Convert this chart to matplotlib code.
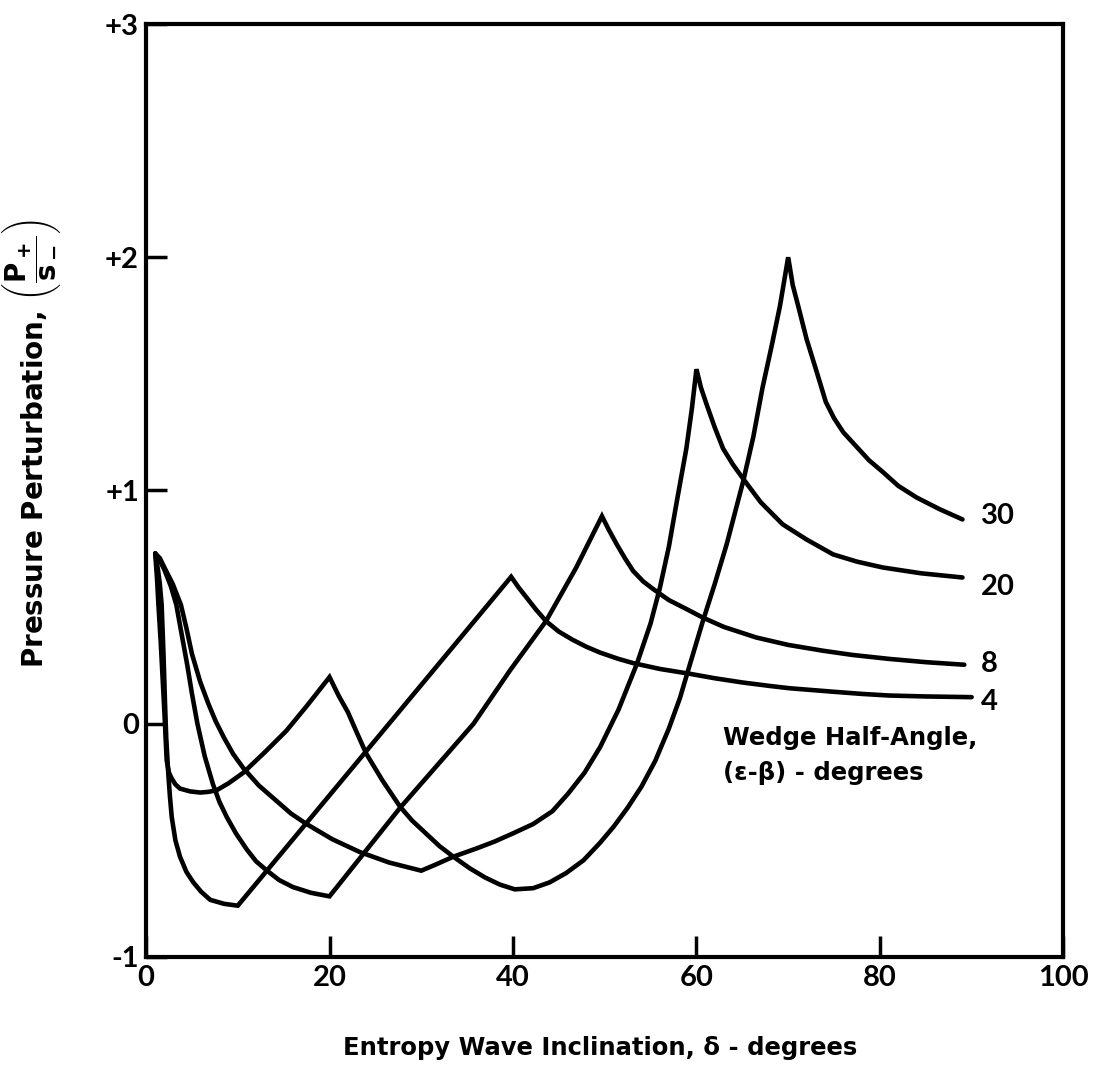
import matplotlib
matplotlib.use("Agg")
import matplotlib.pyplot as plt
from matplotlib.ticker import FixedLocator, FixedFormatter

plt.rcParams['font.family'] = ['DejaVu Sans']
plt.rcParams['font.weight'] = 'bold'
plt.rcParams['mathtext.fontset'] = 'custom'
plt.rcParams['mathtext.rm'] = 'DejaVu Sans:bold'
plt.rcParams['mathtext.it'] = 'DejaVu Sans:bold'
plt.rcParams['mathtext.bf'] = 'DejaVu Sans:bold'

# Pressure perturbation vs. entropy wave inclination, one curve per wedge half-angle
x_w4 = [1.0, 1.3, 1.5, 1.7, 1.9, 2.07, 2.2, 2.4, 2.6, 2.8, 3.2, 3.7, 4.4, 5.15, 6.0, 7.0, 8.5, 10.0,
        39.8, 40.6, 41.5, 42.5, 43.6, 45, 46.5, 48, 49.5, 51.5, 53.1, 56, 59.3, 62, 65, 68, 70.2,
        75, 78, 81, 85, 90]
y_w4 = [0.73, 0.66, 0.60, 0.51, 0.30, 0.085, -0.06, -0.20, -0.31, -0.40, -0.50, -0.57, -0.635,
        -0.68, -0.72, -0.755, -0.772, -0.78,
        0.63, 0.585, 0.54, 0.49, 0.44, 0.395, 0.36, 0.33, 0.305, 0.278, 0.26, 0.235, 0.214, 0.195,
        0.177, 0.162, 0.152, 0.137, 0.128, 0.121, 0.117, 0.114]

x_w8 = [1.0, 1.5, 2.0, 2.7, 3.3, 3.9, 4.5, 5.0, 5.6, 6.4, 7.3, 8.0, 8.8, 9.8, 11, 12, 13.1, 14.5,
        16, 18, 20, 27.7, 35.7, 39.7, 43.6, 46.9, 49.7, 50.4, 51.3, 52.2, 53.1, 54.2, 55.3, 57,
        59, 60.7, 63, 66.5, 70, 73.8, 77, 81, 85, 89.2]
y_w8 = [0.73, 0.70, 0.66, 0.59, 0.51, 0.38, 0.25, 0.13, 0.0, -0.14, -0.26, -0.335, -0.40, -0.47,
        -0.54, -0.59, -0.627, -0.67, -0.70, -0.725, -0.74, -0.36, 0.0, 0.23, 0.44, 0.67, 0.89,
        0.835, 0.77, 0.71, 0.655, 0.61, 0.577, 0.53, 0.49, 0.455, 0.415, 0.37, 0.338, 0.313,
        0.295, 0.278, 0.264, 0.253]

x_w20 = [1.0, 1.5, 2.0, 2.9, 3.8, 4.4, 5.0, 5.9, 6.8, 7.6, 8.5, 9.5, 10.6, 12.3, 14.2, 15.8,
         17.5, 20.3, 23.3, 26.5, 30, 31.5, 33.5, 36, 38, 40, 42.2, 44.3, 46, 47.8, 49.5, 51.5,
         53.5, 55, 56, 57, 57.8, 58.9, 59.5, 60, 60.5, 61.1, 62, 62.9, 64, 65.1, 67, 69.4, 72,
         74.9, 77.5, 80.3, 84.5, 89]
y_w20 = [0.73, 0.71, 0.67, 0.60, 0.51, 0.41, 0.30, 0.18, 0.085, 0.01, -0.06, -0.13, -0.19,
         -0.265, -0.33, -0.385, -0.43, -0.495, -0.55, -0.595, -0.63, -0.605, -0.57, -0.535,
         -0.505, -0.47, -0.43, -0.375, -0.30, -0.21, -0.10, 0.06, 0.256, 0.43, 0.58, 0.76, 0.94,
         1.18, 1.35, 1.52, 1.44, 1.37, 1.27, 1.18, 1.11, 1.05, 0.95, 0.855, 0.79, 0.726, 0.695,
         0.67, 0.645, 0.627]

x_w30 = [1.0, 1.2, 1.35, 1.6, 1.8, 2.0, 2.25, 2.5, 2.8, 3.2, 3.7, 4.8, 5.9, 6.8, 7.7, 9, 10.6,
         13, 15.3, 17.6, 20, 21, 22, 23, 24, 25.8, 27.7, 29, 30.5, 32, 33.5, 35.3, 37, 38.6,
         40.2, 42.2, 44, 45.8, 47.7, 49.5, 51, 52.5, 54, 55.5, 57, 58.2, 59.3, 60.7, 62, 63.3,
         65.1, 66.2, 67.2, 68.2, 69.1, 70, 70.5, 71.1, 72, 73.1, 74.1, 75, 76, 77.4, 78.8, 80.3,
         82, 84, 86.5, 89]
y_w30 = [0.73, 0.62, 0.51, 0.35, 0.20, 0.05, -0.157, -0.21, -0.235, -0.26, -0.278, -0.29,
         -0.295, -0.292, -0.285, -0.255, -0.21, -0.12, -0.03, 0.08, 0.20, 0.12, 0.05, -0.04,
         -0.128, -0.245, -0.356, -0.415, -0.47, -0.525, -0.57, -0.62, -0.66, -0.69, -0.71,
         -0.705, -0.68, -0.64, -0.585, -0.51, -0.44, -0.36, -0.27, -0.16, -0.02, 0.11, 0.256,
         0.44, 0.60, 0.77, 1.04, 1.23, 1.44, 1.62, 1.79, 2.0, 1.88, 1.79, 1.65, 1.51, 1.38, 1.31,
         1.25, 1.19, 1.13, 1.08, 1.02, 0.97, 0.92, 0.876]

curve_labels = ['4', '8', '20', '30']
label_y = [0.094, 0.256, 0.585, 0.89]

x_ticks = [0, 20, 40, 60, 80, 100]
x_ticklabels = ['0', '20', '40', '60', '80', '100']
y_ticks = [-1, 0, 1, 2, 3]
y_ticklabels = ['-1', '0', '+1', '+2', '+3']

fig = plt.figure(figsize=(10.94, 10.67), dpi=100)
ax = fig.add_axes([0.1335, 0.1031, 0.8385, 0.8744])

for xs, ys in [(x_w4, y_w4), (x_w8, y_w8), (x_w20, y_w20), (x_w30, y_w30)]:
    ax.plot(xs, ys, color='black', lw=3.3, solid_joinstyle='miter', solid_capstyle='round')

num_font = ['Lato', 'DejaVu Sans']
for lab, ly in zip(curve_labels, label_y):
    ax.text(91.0, ly, lab, fontsize=21, fontweight='bold', ha='left', va='center',
            family=num_font)

ax.text(62.9, -0.06, 'Wedge Half-Angle,', fontsize=17.5, fontweight='bold', ha='left',
        va='center')
ax.text(62.9, -0.21, '(\u03b5-\u03b2) - degrees', fontsize=17.5, fontweight='bold',
        ha='left', va='center')

ax.set_xlim(0, 100)
ax.set_ylim(-1, 3)
ax.xaxis.set_major_locator(FixedLocator(x_ticks))
ax.xaxis.set_major_formatter(FixedFormatter(x_ticklabels))
ax.yaxis.set_major_locator(FixedLocator(y_ticks))
ax.yaxis.set_major_formatter(FixedFormatter(y_ticklabels))
ax.tick_params(direction='in', length=15, width=2.5, labelsize=21, pad=6)
ax.tick_params(axis='y', pad=5)
for lbl in ax.get_xticklabels() + ax.get_yticklabels():
    lbl.set_fontweight('bold')
    lbl.set_family(num_font)

for s in ax.spines.values():
    s.set_linewidth(3.0)

ax.set_xlabel('Entropy Wave Inclination, \u03b4 - degrees', fontsize=17.5, fontweight='bold')
ax.xaxis.set_label_coords(0.495, -0.085)
ax.set_ylabel(r'Pressure Perturbation, $\left(\dfrac{P_+}{s_-}\right)$', fontsize=20,
              fontweight='bold')
ax.yaxis.set_label_coords(-0.09, 0.55)

fig.savefig('out.png', dpi=100)
